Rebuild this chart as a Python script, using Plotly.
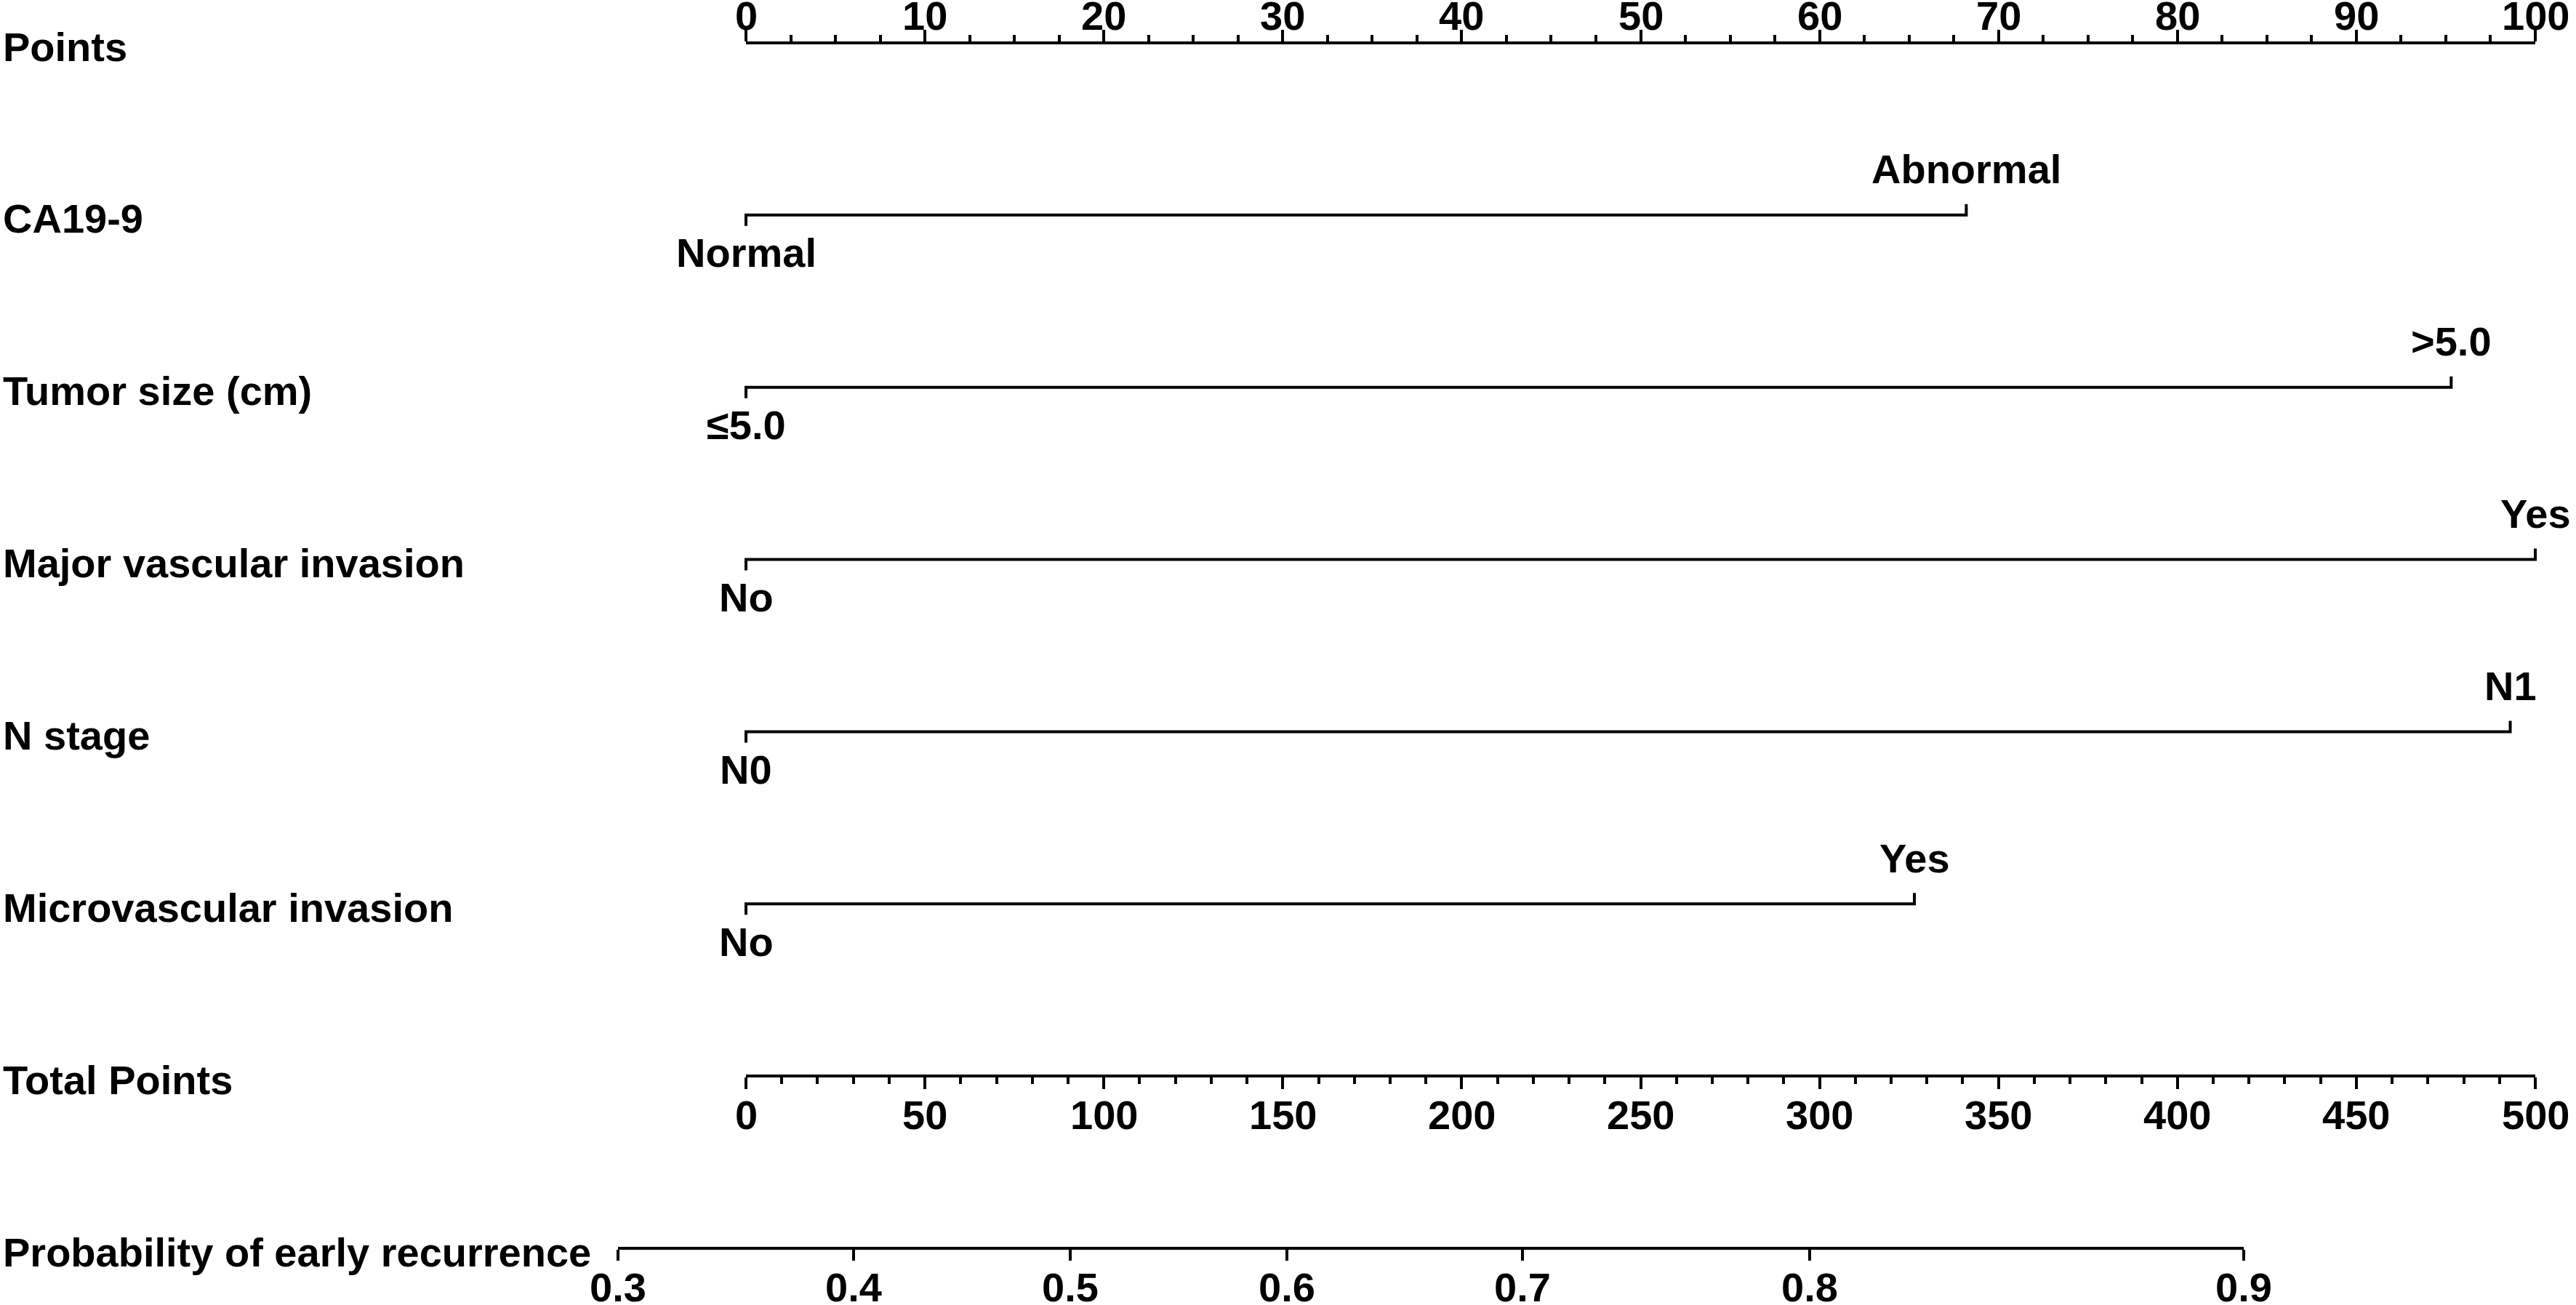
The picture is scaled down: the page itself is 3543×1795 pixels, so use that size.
import plotly.graph_objects as go

# ---------------- data ----------------
row_labels = ["Points", "CA19-9", "Tumor size (cm)", "Major vascular invasion",
              "N stage", "Microvascular invasion", "Total Points",
              "Probability of early recurrence"]

variables = ["CA19-9", "Tumor size (cm)", "Major vascular invasion", "N stage",
             "Microvascular invasion"]
level_low = ["Normal", "≤5.0", "No", "N0", "No"]
level_high = ["Abnormal", ">5.0", "Yes", "N1", "Yes"]
points_low = [0, 0, 0, 0, 0]
points_high = [68.2, 95.3, 100, 98.6, 65.3]

points_major = [0, 10, 20, 30, 40, 50, 60, 70, 80, 90, 100]
points_minor = [2.5, 5, 7.5, 12.5, 15, 17.5, 22.5, 25, 27.5, 32.5, 35, 37.5,
                42.5, 45, 47.5, 52.5, 55, 57.5, 62.5, 65, 67.5, 72.5, 75, 77.5,
                82.5, 85, 87.5, 92.5, 95, 97.5]

total_major = [0, 50, 100, 150, 200, 250, 300, 350, 400, 450, 500]
total_minor = [10, 20, 30, 40, 60, 70, 80, 90, 110, 120, 130, 140, 160, 170, 180,
               190, 210, 220, 230, 240, 260, 270, 280, 290, 310, 320, 330, 340,
               360, 370, 380, 390, 410, 420, 430, 440, 460, 470, 480, 490]

prob_labels = ["0.3", "0.4", "0.5", "0.6", "0.7", "0.8", "0.9"]
prob_total_points = [-35.8, 30.1, 90.6, 151.2, 217.0, 297.2, 418.5]

# ---------------- layout constants ----------------
W, H = 3543, 1795
P0, P100 = 1026, 3487          # pixel x of 0 and 100 points
ROW_Y0, ROW_STEP = 59, 236.86  # pixel y of first row, row spacing
PT_SCALE = (P100 - P0) / 500.0
FONT = dict(family="Liberation Sans, Arial, sans-serif", size=56, color="black", weight="bold")
LW = 4
TK = 15 / ROW_STEP

fig = go.Figure()

# category lines
for i, var in enumerate(variables):
    row = i + 1
    lo, hi = points_low[i], points_high[i]
    fig.add_trace(go.Scatter(
        x=[lo, lo, hi, hi], y=[row + TK, row, row, row - TK],
        mode="lines", line=dict(color="black", width=LW),
        xaxis="x", yaxis="y", hoverinfo="skip", showlegend=False))
    fig.add_annotation(x=lo, y=row, xref="x", yref="y", text=level_low[i],
                       showarrow=False, xanchor="center", yanchor="middle",
                       yshift=-52, font=FONT)
    fig.add_annotation(x=hi, y=row, xref="x", yref="y", text=level_high[i],
                       showarrow=False, xanchor="center", yanchor="middle",
                       yshift=63, font=FONT)

# dummy traces so each scale axis is drawn
for ax, xv in (("x2", 0), ("x3", 0), ("x4", prob_total_points[0])):
    fig.add_trace(go.Scatter(x=[xv], y=[0], xaxis=ax, yaxis="y", mode="markers",
                             marker=dict(opacity=0), hoverinfo="skip", showlegend=False))

# row labels
for r, lab in enumerate(row_labels):
    fig.add_annotation(x=0.0006, y=r, xref="paper", yref="y", text=lab,
                       showarrow=False, xanchor="left", yanchor="middle",
                       yshift=-5, font=FONT)

# scale tick labels (placed on each scale's own axis)
for v in points_major:
    fig.add_annotation(x=v, y=0, xref="x2", yref="y", text=str(v), showarrow=False,
                       xanchor="center", yanchor="middle", yshift=38, font=FONT)
for v in total_major:
    fig.add_annotation(x=v, y=6, xref="x3", yref="y", text=str(v), showarrow=False,
                       xanchor="center", yanchor="middle", yshift=-53, font=FONT)
for v, lab in zip(prob_total_points, prob_labels):
    fig.add_annotation(x=v, y=7, xref="x4", yref="y", text=lab, showarrow=False,
                       xanchor="center", yanchor="middle", yshift=-53, font=FONT)

axis_common = dict(showline=True, linecolor="black", linewidth=LW,
                   ticks="outside", tickcolor="black", tickwidth=LW,
                   showgrid=False, zeroline=False, showticklabels=False,
                   anchor="free", fixedrange=True)

tp_min, tp_max = prob_total_points[0], prob_total_points[-1]

fig.update_layout(
    width=W, height=H,
    margin=dict(l=0, r=0, t=0, b=0),
    paper_bgcolor="white", plot_bgcolor="rgba(0,0,0,0)",
    template="none", showlegend=False,
    xaxis=dict(domain=[0, 1], range=[-P0 / (P100 - P0) * 100, (W - P0) / (P100 - P0) * 100],
               visible=False, fixedrange=True),
    yaxis=dict(domain=[0, 1], range=[(H - ROW_Y0) / ROW_STEP, -ROW_Y0 / ROW_STEP],
               visible=False, fixedrange=True),
    xaxis2=dict(domain=[P0 / W, P100 / W], range=[0, 100], side="top",
                position=1 - ROW_Y0 / H, tickvals=points_major, ticklen=16,
                minor=dict(tickvals=points_minor, ticks="outside", ticklen=9,
                           tickwidth=LW, tickcolor="black", showgrid=False),
                **axis_common),
    xaxis3=dict(domain=[P0 / W, P100 / W], range=[0, 500], side="bottom",
                position=1 - (ROW_Y0 + 6 * ROW_STEP) / H, tickvals=total_major, ticklen=16,
                minor=dict(tickvals=total_minor, ticks="outside", ticklen=9,
                           tickwidth=LW, tickcolor="black", showgrid=False),
                **axis_common),
    xaxis4=dict(domain=[(P0 + tp_min * PT_SCALE) / W, (P0 + tp_max * PT_SCALE) / W],
                range=[tp_min, tp_max], side="bottom",
                position=1 - (ROW_Y0 + 7 * ROW_STEP) / H,
                tickvals=prob_total_points, ticklen=15,
                **axis_common),
)

fig.write_html("out.html", config={"displayModeBar": False}, post_script=(
    "document.body.style.margin='0';document.body.style.padding='0';"
    "document.documentElement.style.overflow='hidden';"))
